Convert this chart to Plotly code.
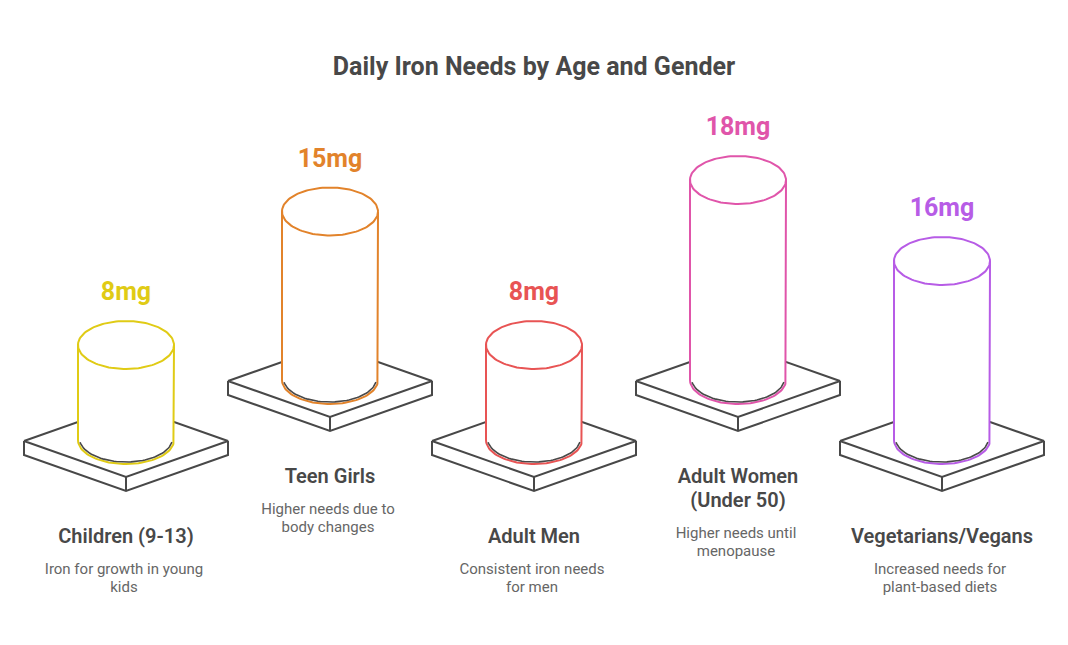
import numpy as np
import plotly.graph_objects as go

title = "Daily Iron Needs by Age and Gender"
categories = [["Children (9-13)"], ["Teen Girls"], ["Adult Men"], ["Adult Women", "(Under 50)"], ["Vegetarians/Vegans"]]
values = [8, 15, 8, 18, 16]
descriptions = [
    ["Iron for growth in young", "kids"],
    ["Higher needs due to", "body changes"],
    ["Consistent iron needs", "for men"],
    ["Higher needs until", "menopause"],
    ["Increased needs for", "plant-based diets"],
]
colors = ["#E0CB15", "#E2832B", "#E85454", "#E055AA", "#B75CE6"]

# layout constants (pixels)
centers = [126, 330, 534, 738, 942]
bases = [440, 380, 440, 380, 440]
R, RY = 48, 24
PW, PH, PT = 102, 36, 14
INK = "#484848"
TXT2 = "#666666"
FONT = "Roboto"


def height(v):
    return 10.5 * v + 11


t = np.linspace(0, 2 * np.pi, 121)
ta = np.linspace(0, np.pi, 61)
tb = np.linspace(0.05 * np.pi, 0.95 * np.pi, 55)
fig = go.Figure()


def line(xs, ys, color, width=2, fill=None):
    fig.add_trace(go.Scatter(x=xs, y=ys, mode="lines", line=dict(color=color, width=width),
                             fill=fill, fillcolor="white" if fill else None,
                             hoverinfo="skip", showlegend=False))


def text(x, y, s, size, color, weight=400):
    fig.add_trace(go.Scatter(x=[x], y=[y], mode="text", text=[s], textposition="middle center",
                             textfont=dict(family=FONT, size=size, color=color, weight=weight),
                             hoverinfo="skip", showlegend=False))


for cat, v, desc, col, cx, by in zip(categories, values, descriptions, colors, centers, bases):
    py = by + 1
    # plate
    line([cx - PW, cx, cx + PW, cx, cx - PW], [py, py - PH, py, py + PH, py], INK, fill="toself")
    line([cx - PW, cx - PW, cx, cx + PW, cx + PW], [py, py + PT, py + PH + PT, py + PT, py], INK)
    line([cx, cx], [py + PH, py + PH + PT], INK)
    # cylinder
    top = by - height(v)
    bx = np.concatenate([[cx + R], cx + R * np.cos(ta), [cx - R, cx + R]])
    byy = np.concatenate([[top], by + RY * np.sin(ta), [top, top]])
    line(bx, byy, col, fill="toself")
    line(cx + (R - 1.5) * np.cos(tb), by - 1.5 + (RY - 0.5) * np.sin(tb), INK, width=1.6)
    line(cx + R * np.cos(t), top + RY * np.sin(t), col, fill="toself")
    # value label
    text(cx, top - RY - 27, f"{v}mg", 25, col, 700)
    # labels
    ly = by + 98
    for i, s in enumerate(cat):
        text(cx, ly + 24 * i, s, 20, INK, 600)
    dy = ly + 24 * (len(cat) - 1) + 33
    for i, s in enumerate(desc):
        text(cx - 2, dy - 1 + 18 * i, s, 15, TXT2)

fig.update_layout(
    width=1068, height=645, margin=dict(l=0, r=0, t=0, b=0),
    paper_bgcolor="white", plot_bgcolor="white", showlegend=False,
    title=dict(text=title, x=0.5, xanchor="center", y=1 - 66 / 645, yanchor="middle",
               font=dict(family=FONT, size=25, color=INK, weight=700)),
    xaxis=dict(range=[0, 1068], visible=False, fixedrange=True),
    yaxis=dict(range=[645, 0], visible=False, fixedrange=True),
)
fig.write_html("out.html", config=dict(displayModeBar=False),
               post_script="document.body.style.margin='0';")
